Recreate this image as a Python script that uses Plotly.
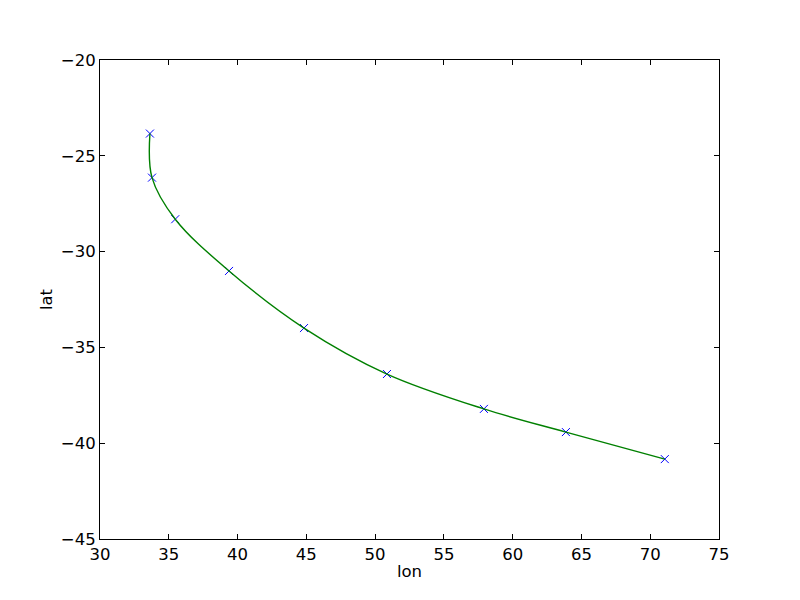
import plotly.graph_objects as go

lon = [33.63, 33.78, 35.47, 39.38, 44.83, 50.86, 57.91, 63.87, 71.06]
lat = [-23.84, -26.14, -28.31, -31.01, -33.99, -36.39, -38.21, -39.42, -40.83]

x_ticks = [30, 35, 40, 45, 50, 55, 60, 65, 70, 75]
y_ticks = [-20, -25, -30, -35, -40, -45]

FONT = dict(family="DejaVu Sans", size=16.5, color="black")

fig = go.Figure()
fig.add_trace(go.Scatter(
    x=lon, y=lat, mode="markers",
    marker=dict(symbol="x-thin", size=8, line=dict(color="#0000ff", width=1)),
    showlegend=False,
))
fig.add_trace(go.Scatter(
    x=lon, y=lat, mode="lines", line_shape="spline",
    line=dict(color="#008000", width=1.4, smoothing=1.0),
    showlegend=False,
))

axis_common = dict(
    showgrid=False, zeroline=False, showline=True, linecolor="black", linewidth=1,
    mirror="ticks", ticks="inside", ticklen=5, tickcolor="black",
    tickfont=FONT,
)
fig.update_xaxes(range=[30, 75], tickvals=x_ticks,
                 ticktext=[str(v) for v in x_ticks],
                 title=dict(text="lon", font=FONT, standoff=2),
                 **axis_common)
fig.update_yaxes(range=[-45, -20], tickvals=y_ticks,
                 ticktext=["\u2212" + str(abs(v)) for v in y_ticks],
                 title=dict(text="lat", font=FONT, standoff=4),
                 **axis_common)
fig.update_layout(
    width=800, height=600,
    margin=dict(l=92, r=89, t=52, b=69),
    plot_bgcolor="white", paper_bgcolor="white",
)
fig.write_html("out.html")
